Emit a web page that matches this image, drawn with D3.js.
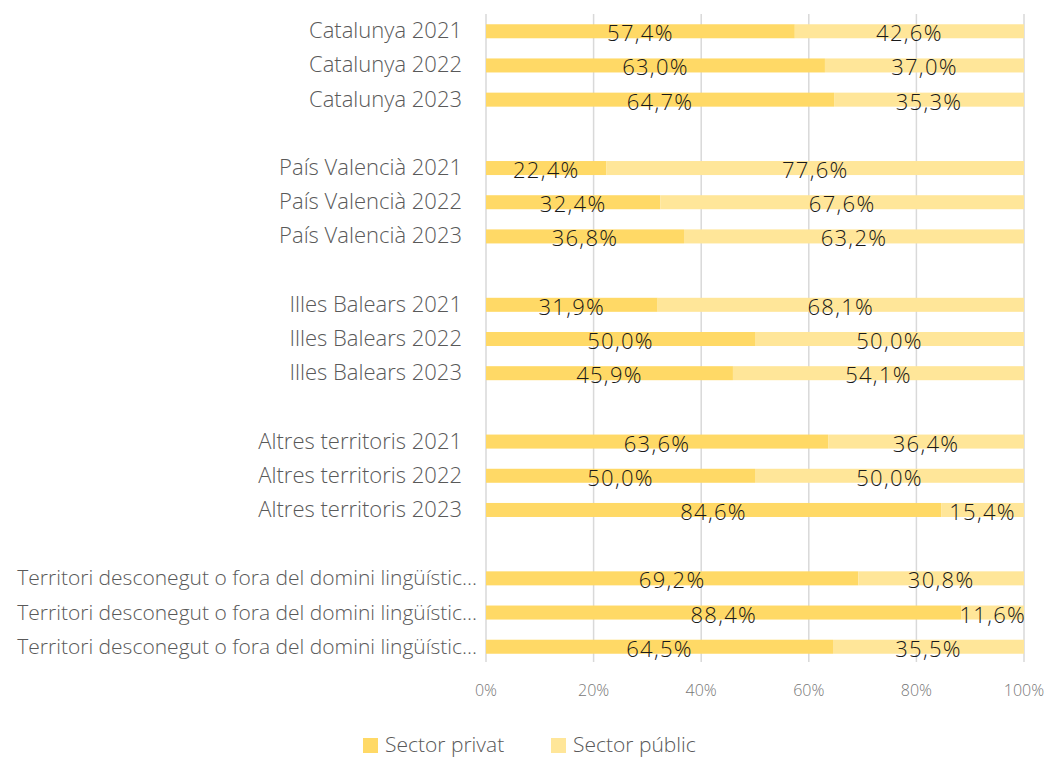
<!DOCTYPE html>
<meta charset="utf-8">
<script src="https://d3js.org/d3.v7.min.js"></script>
<style>
  body { margin: 0; background: #fff; font-family: 'Open Sans', Roboto, sans-serif; }
</style>
<div id="chart"></div>
<script>
// rows top to bottom, blank names = empty gap rows between territories
var categories = [
  "Catalunya 2021", "Catalunya 2022", "Catalunya 2023", "",
  "País Valencià 2021", "País Valencià 2022", "País Valencià 2023", " ",
  "Illes Balears 2021", "Illes Balears 2022", "Illes Balears 2023", "  ",
  "Altres territoris 2021", "Altres territoris 2022", "Altres territoris 2023", "   ",
  "Territori desconegut o fora del domini lingüístic 2021",
  "Territori desconegut o fora del domini lingüístic 2022",
  "Territori desconegut o fora del domini lingüístic 2023"
];
var privat = [57.4, 63.0, 64.7, null, 22.4, 32.4, 36.8, null, 31.9, 50.0, 45.9, null,
              63.6, 50.0, 84.6, null, 69.2, 88.4, 64.5];
var public_ = [42.6, 37.0, 35.3, null, 77.6, 67.6, 63.2, null, 68.1, 50.0, 54.1, null,
               36.4, 50.0, 15.4, null, 30.8, 11.6, 35.5];
var series = ["Sector privat", "Sector públic"];
var colors = ["#FFD966", "#FFE699"];
var xTicks = [0, 20, 40, 60, 80, 100];

var W = 1048, H = 758;
var margin = { top: 14, right: 24, bottom: 94, left: 486 };
var width = W - margin.left - margin.right,
    height = H - margin.top - margin.bottom;

var svg = d3.select("#chart").append("svg")
    .attr("width", W).attr("height", H);
var g = svg.append("g")
    .attr("transform", "translate(" + margin.left + "," + margin.top + ")");

var x = d3.scaleLinear().domain([0, 100]).range([0, width]);
var y = d3.scaleBand().domain(categories).range([0, height]).paddingInner(0.59).paddingOuter(0.3);

// gridlines
g.selectAll(".grid").data(xTicks).enter().append("line")
    .attr("x1", function (d) { return x(d); })
    .attr("x2", function (d) { return x(d); })
    .attr("y1", 0).attr("y2", height - 2)
    .attr("stroke", "#d9d9d9").attr("stroke-width", 1.5);

// x tick labels
g.selectAll(".xt").data(xTicks).enter().append("text")
    .attr("x", function (d) { return x(d); })
    .attr("y", height + 32)
    .attr("text-anchor", "middle")
    .attr("font-size", 16).attr("font-weight", 300)
    .attr("fill", "#777")
    .text(function (d) { return d + "%"; });

var rows = categories.map(function (c, i) {
  return { cat: c, p: privat[i], q: public_[i] };
}).filter(function (d) { return d.p != null; });

function fmt(v) { return v.toFixed(1).replace(".", ",") + "%"; }
function isLong(s) { return s.indexOf("Territori desconegut") === 0; }
function shortName(s) {
  return isLong(s) ? "Territori desconegut o fora del domini lingüístic..." : s;
}

// bars
var row = g.selectAll(".row").data(rows).enter().append("g");
row.append("rect")
    .attr("x", x(0))
    .attr("y", function (d) { return y(d.cat); })
    .attr("width", function (d) { return x(d.p) - x(0); })
    .attr("height", y.bandwidth())
    .attr("fill", colors[0]);
row.append("rect")
    .attr("x", function (d) { return x(d.p); })
    .attr("y", function (d) { return y(d.cat); })
    .attr("width", function (d) { return x(d.p + d.q) - x(d.p); })
    .attr("height", y.bandwidth())
    .attr("fill", colors[1]);

// value labels
row.append("text")
    .attr("x", function (d) { return x(d.p / 2); })
    .attr("y", function (d) { return y(d.cat) + y.bandwidth() / 2 + 10; })
    .attr("text-anchor", "middle").attr("font-size", 22).attr("font-weight", 300)
    .attr("letter-spacing", 1.3)
    .attr("fill", "#1a1a1a").text(function (d) { return fmt(d.p); });
row.append("text")
    .attr("x", function (d) { return x(d.p + d.q / 2); })
    .attr("y", function (d) { return y(d.cat) + y.bandwidth() / 2 + 10; })
    .attr("text-anchor", "middle").attr("font-size", 22).attr("font-weight", 300)
    .attr("letter-spacing", 1.3)
    .attr("fill", "#1a1a1a").text(function (d) { return fmt(d.q); });

// category labels
row.append("text")
    .attr("x", function (d) { return isLong(d.cat) ? -9 : -24; })
    .attr("y", function (d) { return y(d.cat) + y.bandwidth() / 2 + 7; })
    .attr("text-anchor", "end")
    .attr("font-size", function (d) { return isLong(d.cat) ? 21 : 22; })
    .attr("font-weight", 300)
    .attr("fill", "#595959").text(function (d) { return shortName(d.cat); });

// legend
var legX = [363, 551];
var leg = svg.selectAll(".leg").data(series).enter().append("g")
    .attr("transform", function (d, i) { return "translate(" + legX[i] + ",738)"; });
leg.append("rect").attr("width", 15).attr("height", 15)
    .attr("fill", function (d, i) { return colors[i]; });
leg.append("text").attr("x", 22).attr("y", 14)
    .attr("font-size", 21).attr("font-weight", 300).attr("fill", "#595959")
    .text(function (d) { return d; });
</script>
